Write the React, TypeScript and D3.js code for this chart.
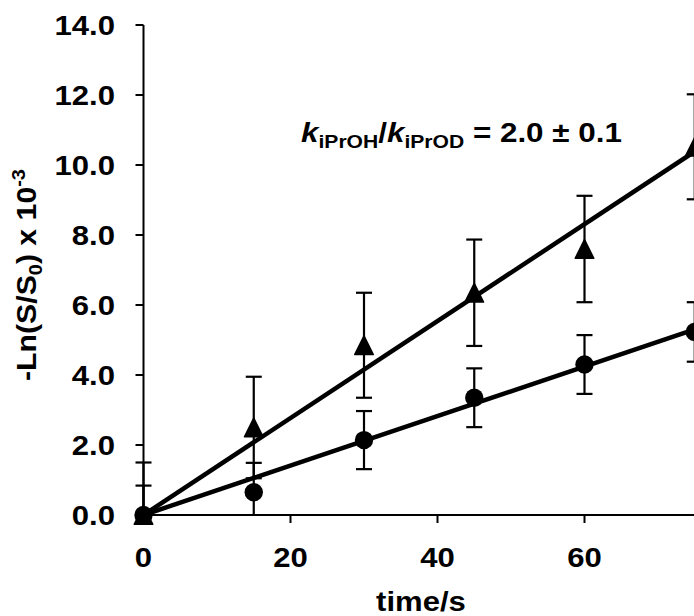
import React from "react";
import * as d3 from "d3";

const times = [0, 15, 30, 45, 60, 75];
const iPrOH = [0, 2.5, 4.85, 6.35, 7.6, 10.52];
const iPrOHErr = [1.5, 1.45, 1.5, 1.52, 1.52, 1.5];
const iPrOD = [0, 0.65, 2.14, 3.35, 4.3, 5.23];
const iPrODErr = [0.84, 0.84, 0.83, 0.84, 0.84, 0.85];
const xTicks = [0, 20, 40, 60];
const yTicks = [0, 2, 4, 6, 8, 10, 12, 14];

const W = 694;
const H = 616;
const FONT = "'Liberation Sans', Arial, sans-serif";

function slopeThroughOrigin(xs: number[], ys: number[]) {
  const sxy = d3.sum(xs.map((x, i) => x * ys[i]));
  const sxx = d3.sum(xs.map((x) => x * x));
  return sxy / sxx;
}

export default function App() {
  const x = d3.scaleLinear().domain([0, 80]).range([143.5, 143.5 + 80 * 7.35]);
  const y = d3.scaleLinear().domain([0, 14]).range([515, 25]);

  const kOH = slopeThroughOrigin(times, iPrOH);
  const kOD = slopeThroughOrigin(times, iPrOD);
  const tEnd = times[times.length - 1];
  const fitLine = (k: number) =>
    d3
      .line<number>()
      .x((t) => x(t))
      .y((t) => y(k * t))([0, tEnd]) || "";

  const tri = (cx: number, cy: number) => {
    const s = 9.3;
    return `M${cx},${cy - s} L${cx + s},${cy + s} L${cx - s},${cy + s} Z`;
  };

  const errBar = (t: number, v: number, e: number, key: string) => {
    const lo = Math.max(0, v - e);
    const hi = v + e;
    const cx = x(t);
    return (
      <g key={key} stroke="#000" strokeWidth={2.2}>
        <line x1={cx} x2={cx} y1={y(lo)} y2={y(hi)} />
        <line x1={cx - 8} x2={cx + 8} y1={y(hi)} y2={y(hi)} />
        {v - e >= 0 && <line x1={cx - 8} x2={cx + 8} y1={y(lo)} y2={y(lo)} />}
      </g>
    );
  };

  const fs = 28;
  const sx = 1.11;

  return (
    <svg
      width={W}
      height={H}
      style={{ position: "absolute", left: 0, top: 0, background: "#fff" }}
      fontFamily={FONT}
    >
      <rect width={W} height={H} fill="#fff" />
      {/* axes */}
      <line x1={x(0)} x2={x(0)} y1={y(14)} y2={y(0)} stroke="#000" strokeWidth={2} />
      <line x1={x(0)} x2={W + 10} y1={y(0)} y2={y(0)} stroke="#000" strokeWidth={2} />
      {yTicks.map((v) => (
        <g key={"yt" + v}>
          <line x1={x(0) - 8} x2={x(0)} y1={y(v)} y2={y(v)} stroke="#000" strokeWidth={2} />
          <text
            transform={`translate(115,${y(v) + 10}) scale(${sx},1)`}
            textAnchor="end"
            fontSize={fs}
            fontWeight="bold"
          >
            {v.toFixed(1)}
          </text>
        </g>
      ))}
      {xTicks.map((v) => (
        <g key={"xt" + v}>
          <line x1={x(v)} x2={x(v)} y1={y(0)} y2={y(0) + 8} stroke="#000" strokeWidth={2} />
          <text
            transform={`translate(${x(v)},566.5) scale(${sx},1)`}
            textAnchor="middle"
            fontSize={fs}
            fontWeight="bold"
          >
            {v}
          </text>
        </g>
      ))}
      {/* axis titles */}
      <text
        transform={`translate(421,611) scale(${sx},1)`}
        textAnchor="middle"
        fontSize={fs}
        fontWeight="bold"
      >
        time/s
      </text>
      <text
        transform={`translate(36,275) rotate(-90) scale(1.08,1)`}
        textAnchor="middle"
        fontSize={fs}
        fontWeight="bold"
      >
        -Ln(S/S
        <tspan fontSize={18.5} dy={6}>0</tspan>
        <tspan dy={-6}>) x 10</tspan>
        <tspan fontSize={18.5} dy={-11}>-3</tspan>
      </text>
      {/* annotation */}
      <text
        transform={`translate(301,142) scale(${sx},1)`}
        fontSize={28.3}
        fontWeight="bold"
      >
        <tspan fontStyle="italic">k</tspan>
        <tspan fontSize={19} dy={6}>iPrOH</tspan>
        <tspan dy={-6}>/</tspan>
        <tspan fontStyle="italic">k</tspan>
        <tspan fontSize={19} dy={6}>iPrOD</tspan>
        <tspan dy={-6}> = 2.0 ± 0.1</tspan>
      </text>
      {/* regression lines */}
      <path d={fitLine(kOD)} stroke="#000" strokeWidth={4.5} fill="none" />
      <path d={fitLine(kOH)} stroke="#000" strokeWidth={4.5} fill="none" />
      {/* error bars */}
      {times.map((t, i) => errBar(t, iPrOH[i], iPrOHErr[i], "eoh" + i))}
      {times.map((t, i) => errBar(t, iPrOD[i], iPrODErr[i], "eod" + i))}
      {/* markers */}
      {times.map((t, i) => (
        <circle key={"c" + i} cx={x(t)} cy={y(iPrOD[i])} r={9.2} fill="#000" />
      ))}
      {times.map((t, i) => (
        <path
          key={"t" + i}
          d={tri(x(t), y(iPrOH[i]))}
          fill="#000"
          stroke="#000"
          strokeWidth={1.5}
          strokeLinejoin="round"
        />
      ))}
    </svg>
  );
}
